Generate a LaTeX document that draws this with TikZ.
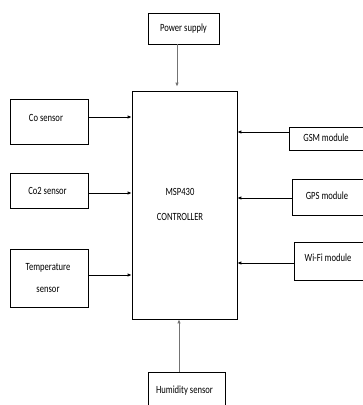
\documentclass[tikz,border=0pt]{standalone}
\usepackage{fontspec}
\setmainfont[FakeStretch=0.78]{Carlito}
\usetikzlibrary{arrows.meta}
\begin{document}
\begin{tikzpicture}[x=1pt,y=-1pt,
  blk/.style={draw=black,line width=0.7pt,rectangle,inner sep=0pt,align=center,font=\fontsize{11}{22}\selectfont},
  lbl/.style={inner sep=0pt,font=\fontsize{11}{22}\selectfont},
  arr/.style={draw=black,line width=0.8pt,-{Latex[length=4pt,width=3.5pt]}},
  garr/.style={draw=black!55,line width=0.9pt,-{Latex[length=4pt,width=3.5pt]}}]
\clip (0,0) rectangle (363,405);
\fill[white] (0,0) rectangle (363,405);
\node[blk,minimum width=71pt,minimum height=31pt] (pow) at (183.5,28.5) {Power supply};
\node[blk,minimum width=105pt,minimum height=228pt] (ctl) at (184.5,205) {};
\node[lbl] (msp) at (180,192) {MSP430};
\node[lbl] (ctr) at (180,217) {CONTROLLER};
\node[blk,minimum width=78pt,minimum height=45pt] (co) at (49,121.5) {};
\node[lbl] (cot) at (46,118) {Co sensor};
\node[blk,minimum width=78pt,minimum height=35pt] (co2) at (49,190.5) {};
\node[lbl] (co2t) at (47.5,191) {Co2 sensor};
\node[blk,minimum width=78pt,minimum height=58pt] (tmp) at (49,278) {};
\node[lbl] (tmpa) at (48,268) {Temperature};
\node[lbl] (tmpb) at (48,290) {sensor};
\node[blk,minimum width=76pt,minimum height=23pt] (gsm) at (327,138.5) {};
\node[lbl] (gsmt) at (326,138) {GSM module};
\node[blk,minimum width=73pt,minimum height=36pt] (gps) at (328.5,197) {};
\node[lbl] (gpst) at (327,196) {GPS module};
\node[blk,minimum width=71pt,minimum height=38pt] (wifi) at (329.5,261) {};
\node[lbl] (wifit) at (328,258) {Wi-Fi module};
\node[blk,minimum width=77pt,minimum height=38pt] (hum) at (186.5,391) {};
\node[lbl] (humt) at (184.5,391) {Humidity sensor};
\draw[garr,shorten >=4pt] (pow.south -| 177,0) -- (ctl.north -| 177,0);
\draw[garr] (hum.north -| 179,0) -- (ctl.south -| 179,0);
\draw[arr] (co.east |- 0,117) -- (ctl.west |- 0,117);
\draw[arr] (co2.east |- 0,193) -- (ctl.west |- 0,193);
\draw[arr] (tmp.east |- 0,275) -- (ctl.west |- 0,275);
\draw[arr] (gsm.west |- 0,132) -- (ctl.east |- 0,132);
\draw[arr] (gps.west |- 0,198) -- (ctl.east |- 0,198);
\draw[arr] (wifi.west |- 0,263) -- (ctl.east |- 0,263);
\end{tikzpicture}
\end{document}
